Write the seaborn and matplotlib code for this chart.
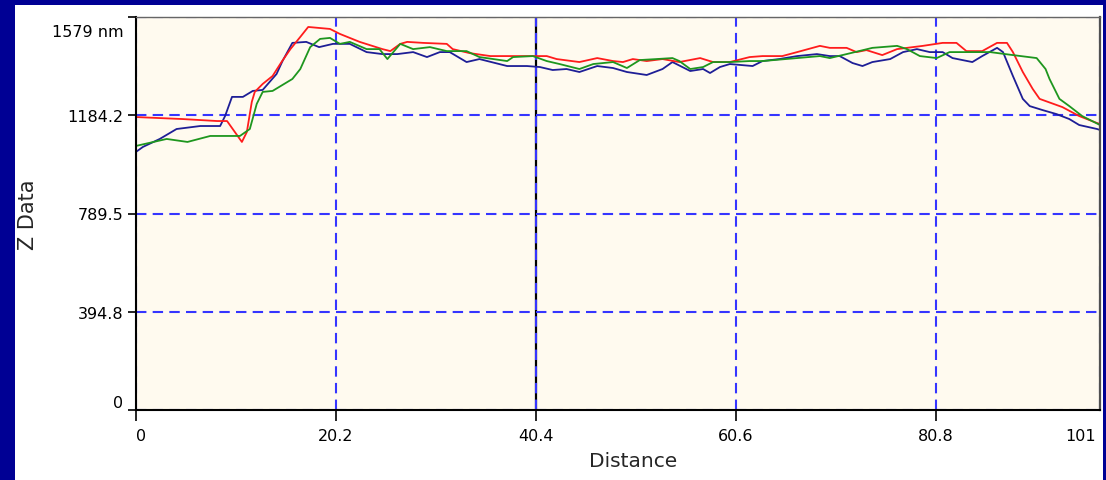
import matplotlib
matplotlib.use("Agg")
import matplotlib.pyplot as plt
import matplotlib.transforms as mtransforms
from matplotlib.patches import Rectangle
import pandas as pd
import seaborn as sns

# Section profiles: distance along the cut and surface height (nm)
red_distance = [0.0, 4.7, 8.2, 9.2, 10.7, 11.2, 11.7, 12.0, 12.8, 13.8, 14.7, 15.6, 16.6, 17.4, 19.6,
                20.6, 22.6, 24.9, 25.7, 26.7, 27.4, 29.0, 31.4, 32.0, 33.7, 35.8, 38.1, 41.5, 42.5, 44.8,
                46.6, 48.2, 49.2, 50.2, 51.6, 53.2, 54.9, 57.0, 58.3, 60.0, 62.0, 63.3, 65.3, 66.8, 69.1,
                70.1, 71.8, 72.8, 73.8, 75.4, 76.9, 79.5, 81.5, 82.9, 83.9, 85.5, 87.0, 88.0, 88.6, 89.6,
                90.6, 91.3, 93.6, 95.3, 97.1, 97.4]
red_height = [1177, 1169, 1161, 1161, 1077, 1117, 1238, 1278, 1310, 1342, 1398, 1450, 1499, 1539, 1531,
              1511, 1479, 1450, 1442, 1471, 1479, 1475, 1471, 1450, 1434, 1422, 1422, 1422, 1410, 1398,
              1414, 1402, 1398, 1410, 1402, 1410, 1398, 1414, 1398, 1398, 1418, 1422, 1422, 1438, 1463,
              1455, 1455, 1438, 1446, 1426, 1450, 1463, 1475, 1475, 1442, 1442, 1475, 1475, 1438, 1358,
              1290, 1250, 1217, 1181, 1153, 1149]

blue_distance = [0.0, 0.7, 2.4, 4.1, 6.5, 8.5, 9.0, 9.7, 10.8, 11.8, 12.8, 14.2, 14.8, 15.8, 17.2,
                 18.5, 19.9, 21.6, 23.3, 24.9, 26.4, 28.0, 29.4, 30.7, 31.7, 33.4, 34.7, 37.5, 39.5, 40.8,
                 42.1, 43.5, 44.8, 46.6, 48.2, 49.6, 51.6, 53.2, 54.2, 56.0, 57.3, 58.0, 59.0, 60.0, 62.3,
                 63.3, 65.0, 66.8, 68.8, 70.1, 71.1, 72.4, 73.4, 74.4, 76.2, 77.5, 78.9, 80.2, 81.5, 82.5,
                 83.5, 84.5, 85.5, 87.0, 87.6, 88.6, 89.6, 90.3, 91.6, 93.0, 94.3, 95.3, 97.1, 97.4]
blue_height = [1037, 1057, 1089, 1129, 1141, 1141, 1181, 1258, 1258, 1282, 1286, 1350, 1402, 1475, 1479,
               1458, 1471, 1471, 1438, 1430, 1430, 1438, 1418, 1438, 1438, 1398, 1410, 1382, 1382, 1378,
               1366, 1370, 1358, 1382, 1374, 1358, 1346, 1370, 1398, 1362, 1370, 1354, 1378, 1390, 1382,
               1402, 1410, 1422, 1430, 1422, 1422, 1394, 1382, 1398, 1410, 1438, 1450, 1438, 1438, 1414,
               1406, 1398, 1422, 1455, 1438, 1342, 1250, 1221, 1205, 1189, 1169, 1145, 1129, 1125]

green_distance = [0.0, 3.1, 5.2, 7.5, 10.5, 11.5, 12.2, 12.8, 13.8, 15.8, 16.6, 17.6, 18.6, 19.6, 20.6,
                  21.6, 23.3, 24.6, 25.4, 26.7, 28.0, 29.7, 31.4, 33.4, 34.7, 36.1, 37.5, 38.1, 40.1, 41.5,
                  42.8, 44.8, 46.2, 48.2, 49.6, 50.9, 52.6, 54.2, 54.9, 56.0, 57.3, 58.3, 60.0, 62.0, 63.3,
                  66.8, 69.1, 70.1, 71.8, 74.4, 76.9, 77.9, 79.2, 80.9, 82.2, 84.2, 86.3, 88.6, 91.0, 91.9,
                  92.3, 93.3, 94.3, 95.6, 97.4]
green_height = [1061, 1089, 1077, 1101, 1101, 1129, 1230, 1278, 1282, 1330, 1370, 1458, 1491, 1495, 1471,
                1479, 1450, 1450, 1410, 1471, 1450, 1458, 1442, 1442, 1418, 1410, 1402, 1418, 1422, 1402,
                1390, 1370, 1390, 1398, 1374, 1406, 1410, 1414, 1402, 1370, 1378, 1398, 1398, 1402, 1402,
                1414, 1422, 1414, 1430, 1455, 1463, 1450, 1422, 1414, 1438, 1438, 1438, 1426, 1414, 1370,
                1330, 1250, 1221, 1181, 1145]

# Axis scales and labels
x_end = 97.4
z_top = 1579
x_ticks = [0, 20.2, 40.4, 60.6, 80.8, x_end]
x_tick_labels = ["0", "20.2", "40.4", "60.6", "80.8", "101"]
y_ticks = [0, 394.8, 789.5, 1184.2, 1579]
y_tick_labels = ["0", "394.8", "789.5", "1184.2", "1579 nm"]
cursor_at = 40.4

NAVY = "#000094"
PLOT_BG = "#FFFAEF"
GRID_BLUE = "#3535FF"
trace_colors = {"blue": "#1E1E96", "red": "#FF1C1C", "green": "#1E961E"}

frames = []
for name, dist, height in [("blue", blue_distance, blue_height),
                           ("red", red_distance, red_height),
                           ("green", green_distance, green_height)]:
    frames.append(pd.DataFrame({"Distance": dist, "Z Data": height, "trace": name}))
profiles = pd.concat(frames, ignore_index=True)

sns.set_style("ticks")
plt.rcParams["font.family"] = ["DejaVu Sans"]

W, H = 1106, 481
fig = plt.figure(figsize=(W / 100, H / 100), dpi=100, facecolor=NAVY)
# white panel inside the navy frame, kept behind the axes
fig.patches.append(Rectangle((15 / W, 0), (1103 - 15) / W, (H - 6) / H,
                             transform=fig.transFigure, facecolor="white",
                             edgecolor="none", zorder=-10))

ax = fig.add_axes([136 / W, (H - 411) / H, 964 / W, 393 / H])
ax.set_zorder(1)
ax.set_facecolor(PLOT_BG)

# cursor line under the grid
ax.axvline(cursor_at, color="black", linewidth=1.6, zorder=1.2)

sns.lineplot(data=profiles, x="Distance", y="Z Data", hue="trace",
             hue_order=["blue", "red", "green"], palette=trace_colors,
             estimator=None, sort=False, legend=False, linewidth=1.3, ax=ax,
             zorder=2)

ax.set_xlim(0, x_end)
ax.set_ylim(0, z_top)
ax.set_xticks(x_ticks)
ax.set_xticklabels(x_tick_labels)
ax.set_yticks(y_ticks)
ax.set_yticklabels(y_tick_labels)

ax.set_axisbelow("line")
ax.grid(True, color=GRID_BLUE, linestyle=(0, (5, 3)), linewidth=1.5)

for side in ["left", "bottom"]:
    ax.spines[side].set_color("black")
    ax.spines[side].set_linewidth(1.5)
ax.spines["top"].set_color("#666666")
ax.spines["top"].set_linewidth(1.0)
ax.spines["right"].set_color("#505050")
ax.spines["right"].set_linewidth(1.6)
for s in ax.spines.values():
    s.set_visible(True)

ax.tick_params(axis="y", direction="out", length=6, width=1.2, pad=3,
               labelsize=11.5, colors="black")
ax.tick_params(axis="x", direction="out", length=8, width=1.2, pad=5,
               labelsize=11.5, colors="black")
ax.xaxis.get_major_ticks()[-1].tick1line.set_visible(False)

xt = ax.get_xticklabels()
xt[0].set_ha("left")
xt[-1].set_ha("right")
xt[-1].set_transform(xt[-1].get_transform() +
                     mtransforms.ScaledTranslation(-4 / 100, 0, fig.dpi_scale_trans))
yt = ax.get_yticklabels()
yt[0].set_va("bottom")
yt[-1].set_va("top")
yt[-1].set_transform(yt[-1].get_transform() +
                     mtransforms.ScaledTranslation(0, -7 / 100, fig.dpi_scale_trans))

ax.set_xlabel("Distance", fontsize=14.5)
ax.xaxis.set_label_coords((633 - 136) / 964, (411 - 462) / 393)
ax.xaxis.label.set_va("center")
ax.set_ylabel("Z Data", fontsize=15)
ax.yaxis.set_label_coords((28 - 136) / 964, 0.5)
ax.yaxis.label.set_va("center")

fig.savefig("out.png", dpi=100, facecolor=fig.get_facecolor())
